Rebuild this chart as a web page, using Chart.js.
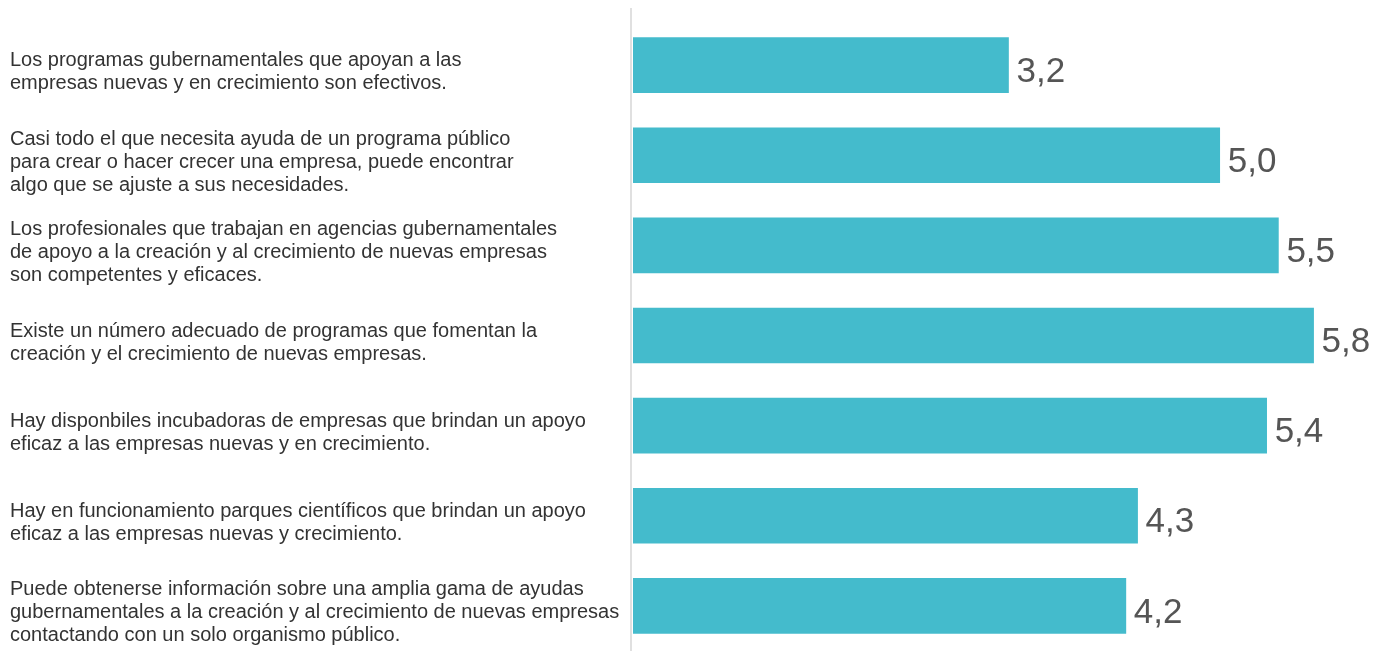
<!DOCTYPE html>
<html>
<head>
<meta charset="utf-8">
<script src="https://cdn.jsdelivr.net/npm/chart.js@4/dist/chart.umd.min.js"></script>
<style>
  html, body { margin: 0; padding: 0; background: #fff; }
  #wrap { width: 1386px; height: 651px; }
</style>
</head>
<body>
<div id="wrap"><canvas id="apoyoChart"></canvas></div>
<script>
// Categories (each one split in lines as in the original)
const categorias = [
    ['Los programas gubernamentales que apoyan a las', 'empresas nuevas y en crecimiento son efectivos.'],
    ['Casi todo el que necesita ayuda de un programa público', 'para crear o hacer crecer una empresa, puede encontrar', 'algo que se ajuste a sus necesidades.'],
    ['Los profesionales que trabajan en agencias gubernamentales', 'de apoyo a la creación y al crecimiento de nuevas empresas', 'son competentes y eficaces.'],
    ['Existe un número adecuado de programas que fomentan la', 'creación y el crecimiento de nuevas empresas.'],
    ['Hay disponbiles incubadoras de empresas que brindan un apoyo', 'eficaz a las empresas nuevas y en crecimiento.'],
    ['Hay en funcionamiento parques científicos que brindan un apoyo', 'eficaz a las empresas nuevas y crecimiento.'],
    ['Puede obtenerse información sobre una amplia gama de ayudas', 'gubernamentales a la creación y al crecimiento de nuevas empresas', 'contactando con un solo organismo público.']
];

// Valores
const valores = [3.2, 5.0, 5.5, 5.8, 5.4, 4.3, 4.2];

// Value labels at the end of each bar
const valueLabels = {
    id: 'valueLabels',
    afterDatasetsDraw(chart) {
        const ctx = chart.ctx;
        const meta = chart.getDatasetMeta(0);
        ctx.save();
        ctx.font = '35px "Liberation Sans", Arial, sans-serif';
        ctx.fillStyle = '#555555';
        ctx.textAlign = 'left';
        ctx.textBaseline = 'middle';
        meta.data.forEach(function(bar, i) {
            const txt = valores[i].toFixed(1).replace('.', ',');
            ctx.fillText(txt, bar.x + 8, bar.y + 7);
        });
        ctx.restore();
    }
};

// Thin vertical axis line
const axisLine = {
    id: 'axisLine',
    beforeDatasetsDraw(chart) {
        const ctx = chart.ctx;
        const x = chart.scales.x.getPixelForValue(0) - 2;
        ctx.save();
        ctx.strokeStyle = '#d6d6d6';
        ctx.lineWidth = 1.5;
        ctx.beginPath();
        ctx.moveTo(x, 8);
        ctx.lineTo(x, chart.height);
        ctx.stroke();
        ctx.restore();
    }
};

const ctx = document.getElementById('apoyoChart').getContext('2d');
const apoyoChart = new Chart(ctx, {
    type: 'bar',
    data: {
        labels: categorias,
        datasets: [{
            data: valores,
            backgroundColor: '#44bbcc',
            borderWidth: 0,
            barThickness: 55
        }]
    },
    options: {
        indexAxis: 'y',
        responsive: true,
        maintainAspectRatio: false,
        animation: false,
        layout: { padding: { left: 10, right: 2, top: 20, bottom: 0 } },
        plugins: {
            legend: { display: false },
            tooltip: { enabled: false }
        },
        scales: {
            x: {
                display: false,
                min: 0,
                max: 6.4
            },
            y: {
                grid: { display: false, drawTicks: false },
                border: { display: false },
                afterFit: function(scale) {
                    scale.width = 623;
                    scale.paddingTop = 0;
                    scale.paddingBottom = 0;
                },
                ticks: {
                    crossAlign: 'far',
                    labelOffset: 7,
                    color: '#333333',
                    font: { family: '"Liberation Sans", Arial, sans-serif', size: 20, lineHeight: 1.15 }
                }
            }
        }
    },
    plugins: [valueLabels, axisLine]
});
</script>
</body>
</html>
